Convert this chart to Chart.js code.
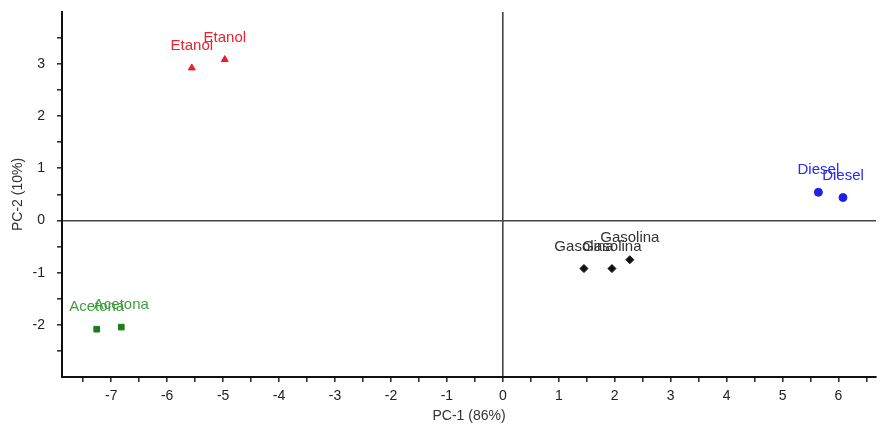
<!DOCTYPE html>
<html>
<head>
<meta charset="utf-8">
<script src="https://cdn.jsdelivr.net/npm/chart.js@4/dist/chart.umd.min.js"></script>
<style>
  html, body { margin: 0; padding: 0; background: #fff; }
  #wrap { width: 881px; height: 425px; }
</style>
</head>
<body>
<div id="wrap"><canvas id="pca"></canvas></div>
<script>
// PCA scores
const etanolX = [-5.56, -4.97];
const etanolY = [2.92, 3.08];
const acetonaX = [-7.26, -6.82];
const acetonaY = [-2.08, -2.04];
const gasolinaX = [1.45, 1.95, 2.27];
const gasolinaY = [-0.92, -0.92, -0.75];
const dieselX = [5.64, 6.08];
const dieselY = [0.54, 0.44];

const xTitle = 'PC-1 (86%)';
const yTitle = 'PC-2 (10%)';

const FONT = '"Liberation Sans", Arial, sans-serif';

const toPoints = (xs, ys) => xs.map((x, i) => ({x, y: ys[i]}));

const groups = [
    {name: 'Etanol', xs: etanolX, ys: etanolY, style: 'triangle', color: '#e3202b', text: '#e8232e', radius: 4},
    {name: 'Acetona', xs: acetonaX, ys: acetonaY, style: 'rect', color: '#1c7d1c', text: '#3d9e3d', radius: 4},
    {name: 'Gasolina', xs: gasolinaX, ys: gasolinaY, style: 'rectRot', color: '#111', text: '#333', radius: 4},
    {name: 'Diesel', xs: dieselX, ys: dieselY, style: 'circle', color: '#1f1fe6', text: '#2a2aee', radius: 4}
];

// writes each sample's name above its marker
const pointLabels = {
    id: 'pointLabels',
    afterDatasetsDraw(chart) {
        const ctx = chart.ctx;
        ctx.save();
        ctx.font = '15px ' + FONT;
        ctx.textAlign = 'center';
        ctx.textBaseline = 'middle';
        chart.data.datasets.forEach((ds, di) => {
            const meta = chart.getDatasetMeta(di);
            ctx.fillStyle = ds.textColor;
            meta.data.forEach(pt => ctx.fillText(ds.label, pt.x, pt.y - 22));
        });
        ctx.restore();
    }
};

const tickText = v => Number.isInteger(v) ? String(v) : '';
const zeroLine = c => c.tick && c.tick.value === 0 ? '#444' : 'rgba(0,0,0,0)';

new Chart(document.getElementById('pca'), {
    type: 'scatter',
    data: {
        datasets: groups.map(g => ({
            label: g.name,
            data: toPoints(g.xs, g.ys),
            pointStyle: g.style,
            pointRadius: g.radius,
            pointHoverRadius: g.radius,
            backgroundColor: g.color,
            borderColor: g.color,
            borderWidth: 1,
            textColor: g.text
        }))
    },
    options: {
        responsive: true,
        maintainAspectRatio: false,
        animation: false,
        layout: {padding: {top: 12, right: 0, left: 0, bottom: 0}},
        plugins: {legend: {display: false}, tooltip: {enabled: false}},
        scales: {
            x: {
                type: 'linear',
                min: -7.88,
                max: 6.67,
                afterFit: s => {
                    s.height = 48;
                    s.paddingLeft = 0;
                    s.paddingRight = 0;
                },
                ticks: {
                    stepSize: 0.5,
                    includeBounds: false,
                    autoSkip: false,
                    maxRotation: 0,
                    padding: 6,
                    color: '#222',
                    font: {family: FONT, size: 14},
                    callback: tickText
                },
                grid: {
                    drawOnChartArea: true,
                    color: zeroLine,
                    lineWidth: 1.6,
                    tickColor: '#333',
                    tickLength: 5
                },
                border: {display: true, color: '#111', width: 2},
                title: {
                    display: true,
                    text: xTitle,
                    color: '#333',
                    font: {family: FONT, size: 14},
                    padding: {top: 0, bottom: 0}
                }
            },
            y: {
                type: 'linear',
                min: -2.995,
                max: 3.99,
                afterFit: s => {
                    s.width = 62;
                    s.paddingTop = 0;
                    s.paddingBottom = 0;
                },
                ticks: {
                    stepSize: 0.5,
                    includeBounds: false,
                    autoSkip: false,
                    padding: 12,
                    color: '#222',
                    font: {family: FONT, size: 14},
                    callback: tickText
                },
                grid: {
                    drawOnChartArea: true,
                    color: zeroLine,
                    lineWidth: 1.6,
                    tickColor: '#333',
                    tickLength: 5
                },
                border: {display: true, color: '#111', width: 2},
                title: {
                    display: true,
                    text: yTitle,
                    color: '#333',
                    font: {family: FONT, size: 14},
                    padding: {top: 10, bottom: 4}
                }
            }
        }
    },
    plugins: [pointLabels]
});
</script>
</body>
</html>
